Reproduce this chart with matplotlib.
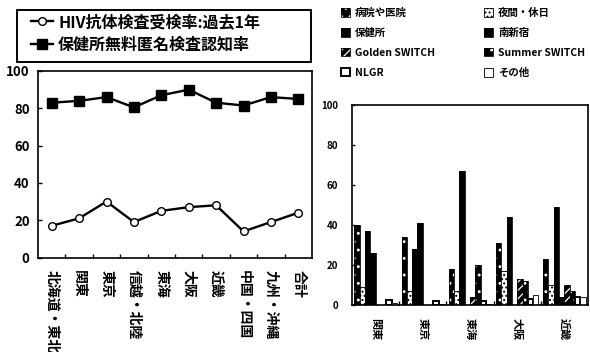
import matplotlib
matplotlib.use("Agg")
import matplotlib.pyplot as plt
from matplotlib.patches import Rectangle
from matplotlib.legend_handler import HandlerTuple
import numpy as np

plt.rcParams['font.family'] = ['Noto Sans CJK JP', 'DejaVu Sans']
plt.rcParams['font.weight'] = 'bold'
plt.rcParams['hatch.linewidth'] = 0.9

# --- 地域別: 受検率と認知率 (%) ---
regions = ["北海道・東北", "関東", "東京", "信越・北陸", "東海", "大阪", "近畿",
           "中国・四国", "九州・沖縄", "合計"]
test_rate = [17, 21, 30, 19, 25, 27, 28, 14, 19, 24]
awareness = [83, 84, 86, 80.5, 87, 90, 83, 81.5, 86, 85]
line_labels = ["HIV抗体検査受検率:過去1年", "保健所無料匿名検査認知率"]

# --- 地域別: 検査場所 (%) ---
venue_regions = ["関東", "東京", "東海", "大阪", "近畿"]
venues = ["病院や医院", "夜間・休日", "保健所", "南新宿",
          "Golden SWITCH", "Summer SWITCH", "NLGR", "その他"]
hospital = [40, 34, 18, 31, 23]
night_holiday = [9, 7, 7, 17, 10]
health_center = [37, 28, 67, 44, 49]
minami_shinjuku = [26, 41, 0, 0, 4]
golden_switch = [0, 0, 4, 13, 10]
summer_switch = [0, 0, 20, 12, 7]
nlgr = [2.5, 2, 2, 3, 4]
other = [1, 0.5, 0.5, 5, 4]
venue_values = [hospital, night_holiday, health_center, minami_shinjuku,
                golden_switch, summer_switch, nlgr, other]

# bar styles: (face, hatch, hatch colour, outline width)
styles = [
    ("black", "..", "white", 0.6),
    ("white", "....", "black", 0.6),
    ("black", None, "black", 0.6),
    ("black", None, "black", 0.6),
    ("black", "////", "white", 0.6),
    ("black", "..", "white", 0.6),
    ("white", None, "black", 1.4),
    ("white", None, "black", 0.6),
]

W, H = 590, 352
fig = plt.figure(figsize=(W / 100, H / 100), dpi=100)


def fx(px):
    return px / W


def fy(py):
    return 1 - py / H


# ---------------- left: line chart ----------------
ax1 = fig.add_axes([fx(38), fy(257.5), fx(312) - fx(38), fy(71) - fy(257.5)])
x = np.arange(len(regions))
l1, = ax1.plot(x, test_rate, color="black", lw=1.7, marker="o", ms=5.5,
               mfc="white", mec="black", mew=1.0)
l2, = ax1.plot(x, awareness, color="black", lw=1.7, marker="s", ms=6.5,
               mfc="black", mec="black")
ax1.set_xlim(-0.5, len(regions) - 0.5)
ax1.set_ylim(0, 100)
ax1.set_yticks(range(0, 101, 20))
ax1.set_xticks(x)
ax1.set_xticklabels(regions, rotation=270, fontsize=10, fontweight="bold")
ax1.set_xticks(np.arange(0.5, len(regions) - 1, 1), minor=True)
ax1.tick_params(axis="x", which="major", length=0, pad=9)
ax1.tick_params(axis="x", which="minor", length=3, direction="in", width=1)
ax1.tick_params(axis="y", length=3, direction="in", width=1, pad=6,
                labelsize=9.5)
for s in ax1.spines.values():
    s.set_linewidth(1.2)

# framed legend box above the line chart
fig.add_artist(Rectangle((fx(17), fy(62)), fx(311) - fx(17), fy(10) - fy(62),
                         transform=fig.transFigure, fill=False,
                         edgecolor="black", lw=1.4))
fig.legend([l1, l2], line_labels, loc="upper left",
           bbox_to_anchor=(fx(31), fy(14)), frameon=False, borderpad=0,
           borderaxespad=0, handlelength=1.4, handletextpad=0.3,
           labelspacing=0.42, prop={"size": 11.5, "weight": "bold"})

# ---------------- right: grouped bars ----------------
ax2 = fig.add_axes([fx(352), fy(305), fx(588) - fx(352), fy(105) - fy(305)])
g = np.arange(len(venue_regions))
n = len(venues)
bw = 0.9 / n
handles = []
for i, (vals, (face, hatch, hcol, lw)) in enumerate(zip(venue_values, styles)):
    pos = g + (i - (n - 1) / 2) * bw
    b = ax2.bar(pos, vals, width=bw, color=face, edgecolor=hcol, hatch=hatch,
                linewidth=0)
    o = ax2.bar(pos, vals, width=bw, fill=False, edgecolor="black",
                linewidth=lw)
    handles.append((b, o))
ax2.set_xlim(-0.5, len(venue_regions) - 0.5)
ax2.set_ylim(0, 100)
ax2.set_yticks(range(0, 101, 20))
ax2.set_xticks(g)
ax2.set_xticklabels(venue_regions, rotation=270, fontsize=8,
                    fontweight="bold")
ax2.set_xticks(np.arange(0.5, len(venue_regions) - 1, 1), minor=True)
ax2.tick_params(axis="x", which="major", length=0, pad=9)
ax2.tick_params(axis="x", which="minor", length=3, direction="in", width=1)
ax2.tick_params(axis="y", length=2, direction="in", width=1, pad=10,
                labelsize=7)
for s in ax2.spines.values():
    s.set_linewidth(1.2)

leg_kw = dict(loc="upper left", frameon=False, borderpad=0, borderaxespad=0,
              handlelength=0.85, handleheight=0.85, handletextpad=0.5,
              labelspacing=0.95, prop={"size": 7.5, "weight": "bold"},
              handler_map={tuple: HandlerTuple(ndivide=1, pad=0)})
left_idx = [0, 2, 4, 6]
right_idx = [1, 3, 5, 7]
fig.legend([handles[i] for i in left_idx], [venues[i] for i in left_idx],
           bbox_to_anchor=(fx(341), fy(8)), **leg_kw)
fig.legend([handles[i] for i in right_idx], [venues[i] for i in right_idx],
           bbox_to_anchor=(fx(484), fy(8)), **leg_kw)

fig.savefig("out.png", dpi=100)
